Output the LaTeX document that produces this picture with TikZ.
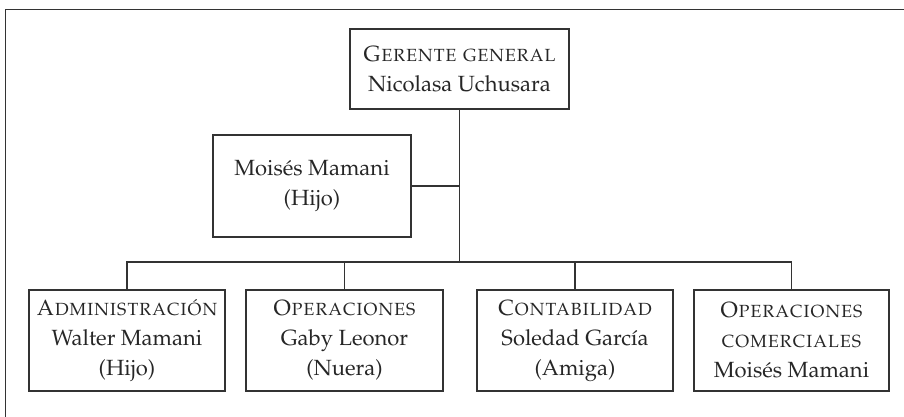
\documentclass[tikz,border=0pt]{standalone}
\usepackage[T1]{fontenc}
\usepackage{mathpazo}
\definecolor{ink}{HTML}{333333}
\tikzset{
  unitbox/.style={draw=ink, line width=0.75pt, rectangle, align=center, inner sep=0pt,
    text=black!85, font=\fontsize{11}{15}\selectfont},
  conn/.style={draw=ink, line width=0.75pt}
}
\begin{document}
\begin{tikzpicture}[x=0.5pt,y=-0.5pt]
\useasboundingbox (0,0) rectangle (904,417);
\draw[conn] (5.5,417) -- (5.5,9.5) -- (904,9.5);
\node[unitbox, minimum width=109.5pt, minimum height=40pt] (top) at (459.5,69)
  {\textsc{Gerente general}\\Nicolasa Uchusara};
\node[unitbox, minimum width=99pt, minimum height=51pt] (mo) at (312,186)
  {Mois\'es Mamani\\(Hijo)};
\node[unitbox, minimum width=98pt, minimum height=50.5pt] (b1) at (127,340.5)
  {\textsc{Administraci\'on}\\Walter Mamani\\(Hijo)};
\node[unitbox, minimum width=98.5pt, minimum height=50.5pt] (b2) at (344.5,340.5)
  {\textsc{Operaciones}\\Gaby Leonor\\(Nuera)};
\node[unitbox, minimum width=98pt, minimum height=50.5pt] (b3) at (575,340.5)
  {\textsc{Contabilidad}\\Soledad Garc\'{\i}a\\(Amiga)};
\node[unitbox, minimum width=97.5pt, minimum height=50.5pt] (b4) at (791.5,340.5)
  {\textsc{Operaciones}\\\textsc{comerciales}\\Mois\'es Mamani};
\coordinate (jt) at (458,262);
\draw[conn] (top.south) -- (top.south |- jt);
\draw[conn] (mo.east) -- (mo.east -| top.south);
\draw[conn] (b1.north) -- (b1.north |- jt) -- (b4.north |- jt) -- (b4.north);
\draw[conn] (b2.north) -- (b2.north |- jt);
\draw[conn] (b3.north) -- (b3.north |- jt);
\end{tikzpicture}
\end{document}
